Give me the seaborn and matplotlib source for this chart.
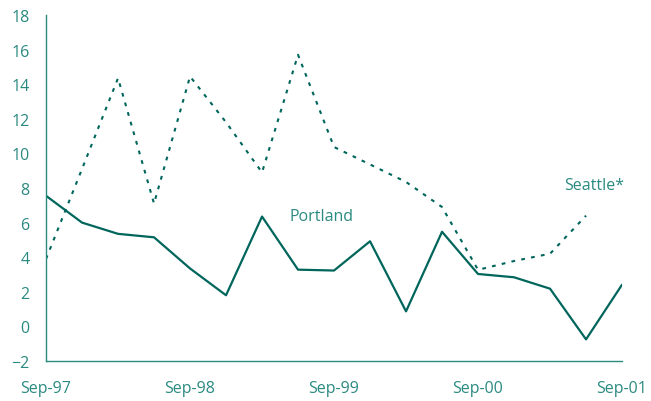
import numpy as np
import pandas as pd
import matplotlib
matplotlib.use('Agg')
import matplotlib.pyplot as plt
import seaborn as sns

quarters = ['Sep-97', 'Dec-97', 'Mar-98', 'Jun-98', 'Sep-98', 'Dec-98', 'Mar-99', 'Jun-99',
            'Sep-99', 'Dec-99', 'Mar-00', 'Jun-00', 'Sep-00', 'Dec-00', 'Mar-01', 'Jun-01', 'Sep-01']
portland = [7.55, 6.0, 5.35, 5.15, 3.35, 1.8, 6.35, 3.28, 3.23, 4.92, 0.87, 5.47,
            3.03, 2.84, 2.18, -0.75, 2.41]
seattle = [3.9, 9.1, 14.35, 7.1, 14.45, 11.8, 8.9, 15.7, 10.37, 9.36, 8.35, 6.9,
           3.27, 3.78, 4.2, 6.4, np.nan]
tick_labels = ['Sep-97', 'Sep-98', 'Sep-99', 'Sep-00', 'Sep-01']

line_col = '#00665c'
text_col = '#2a8a80'
axis_col = '#2a8a80'

df = pd.DataFrame({'q': np.arange(len(quarters)), 'Portland': portland, 'Seattle': seattle})

sns.set_style('white')
plt.rcParams['font.family'] = ['Open Sans', 'DejaVu Sans']

fig = plt.figure(figsize=(6.51, 4.02), dpi=100)
ax = fig.add_axes([0.0707, 0.0995, 0.8848, 0.8607])

sns.lineplot(data=df, x='q', y='Portland', color=line_col, linewidth=1.6, ax=ax)
sns.lineplot(data=df, x='q', y='Seattle', color=line_col, linewidth=1.5, ax=ax,
             linestyle=(0, (1.8, 3.0)))

ax.set_xlim(0, 16)
ax.set_ylim(-2, 18)
ax.set_yticks(range(-2, 19, 2))
ax.set_xticks([0, 4, 8, 12, 16])
ax.set_xticklabels(tick_labels)
ax.set_xlabel('')
ax.set_ylabel('')

for s in ['top', 'right']:
    ax.spines[s].set_visible(False)
for s in ['left', 'bottom']:
    ax.spines[s].set_color(axis_col)
    ax.spines[s].set_linewidth(1.0)

ax.tick_params(axis='both', colors=axis_col, labelcolor=text_col, labelsize=11.5,
               direction='out', length=5, width=1.0)
ax.tick_params(axis='x', pad=9)
ax.tick_params(axis='y', pad=6, length=6)

ax.text(6.75, 6.4, 'Portland', color=text_col, fontsize=11.5, ha='left', va='center')
ax.text(14.4, 8.2, 'Seattle*', color=text_col, fontsize=11.5, ha='left', va='center')

fig.savefig('out.png', dpi=100)
